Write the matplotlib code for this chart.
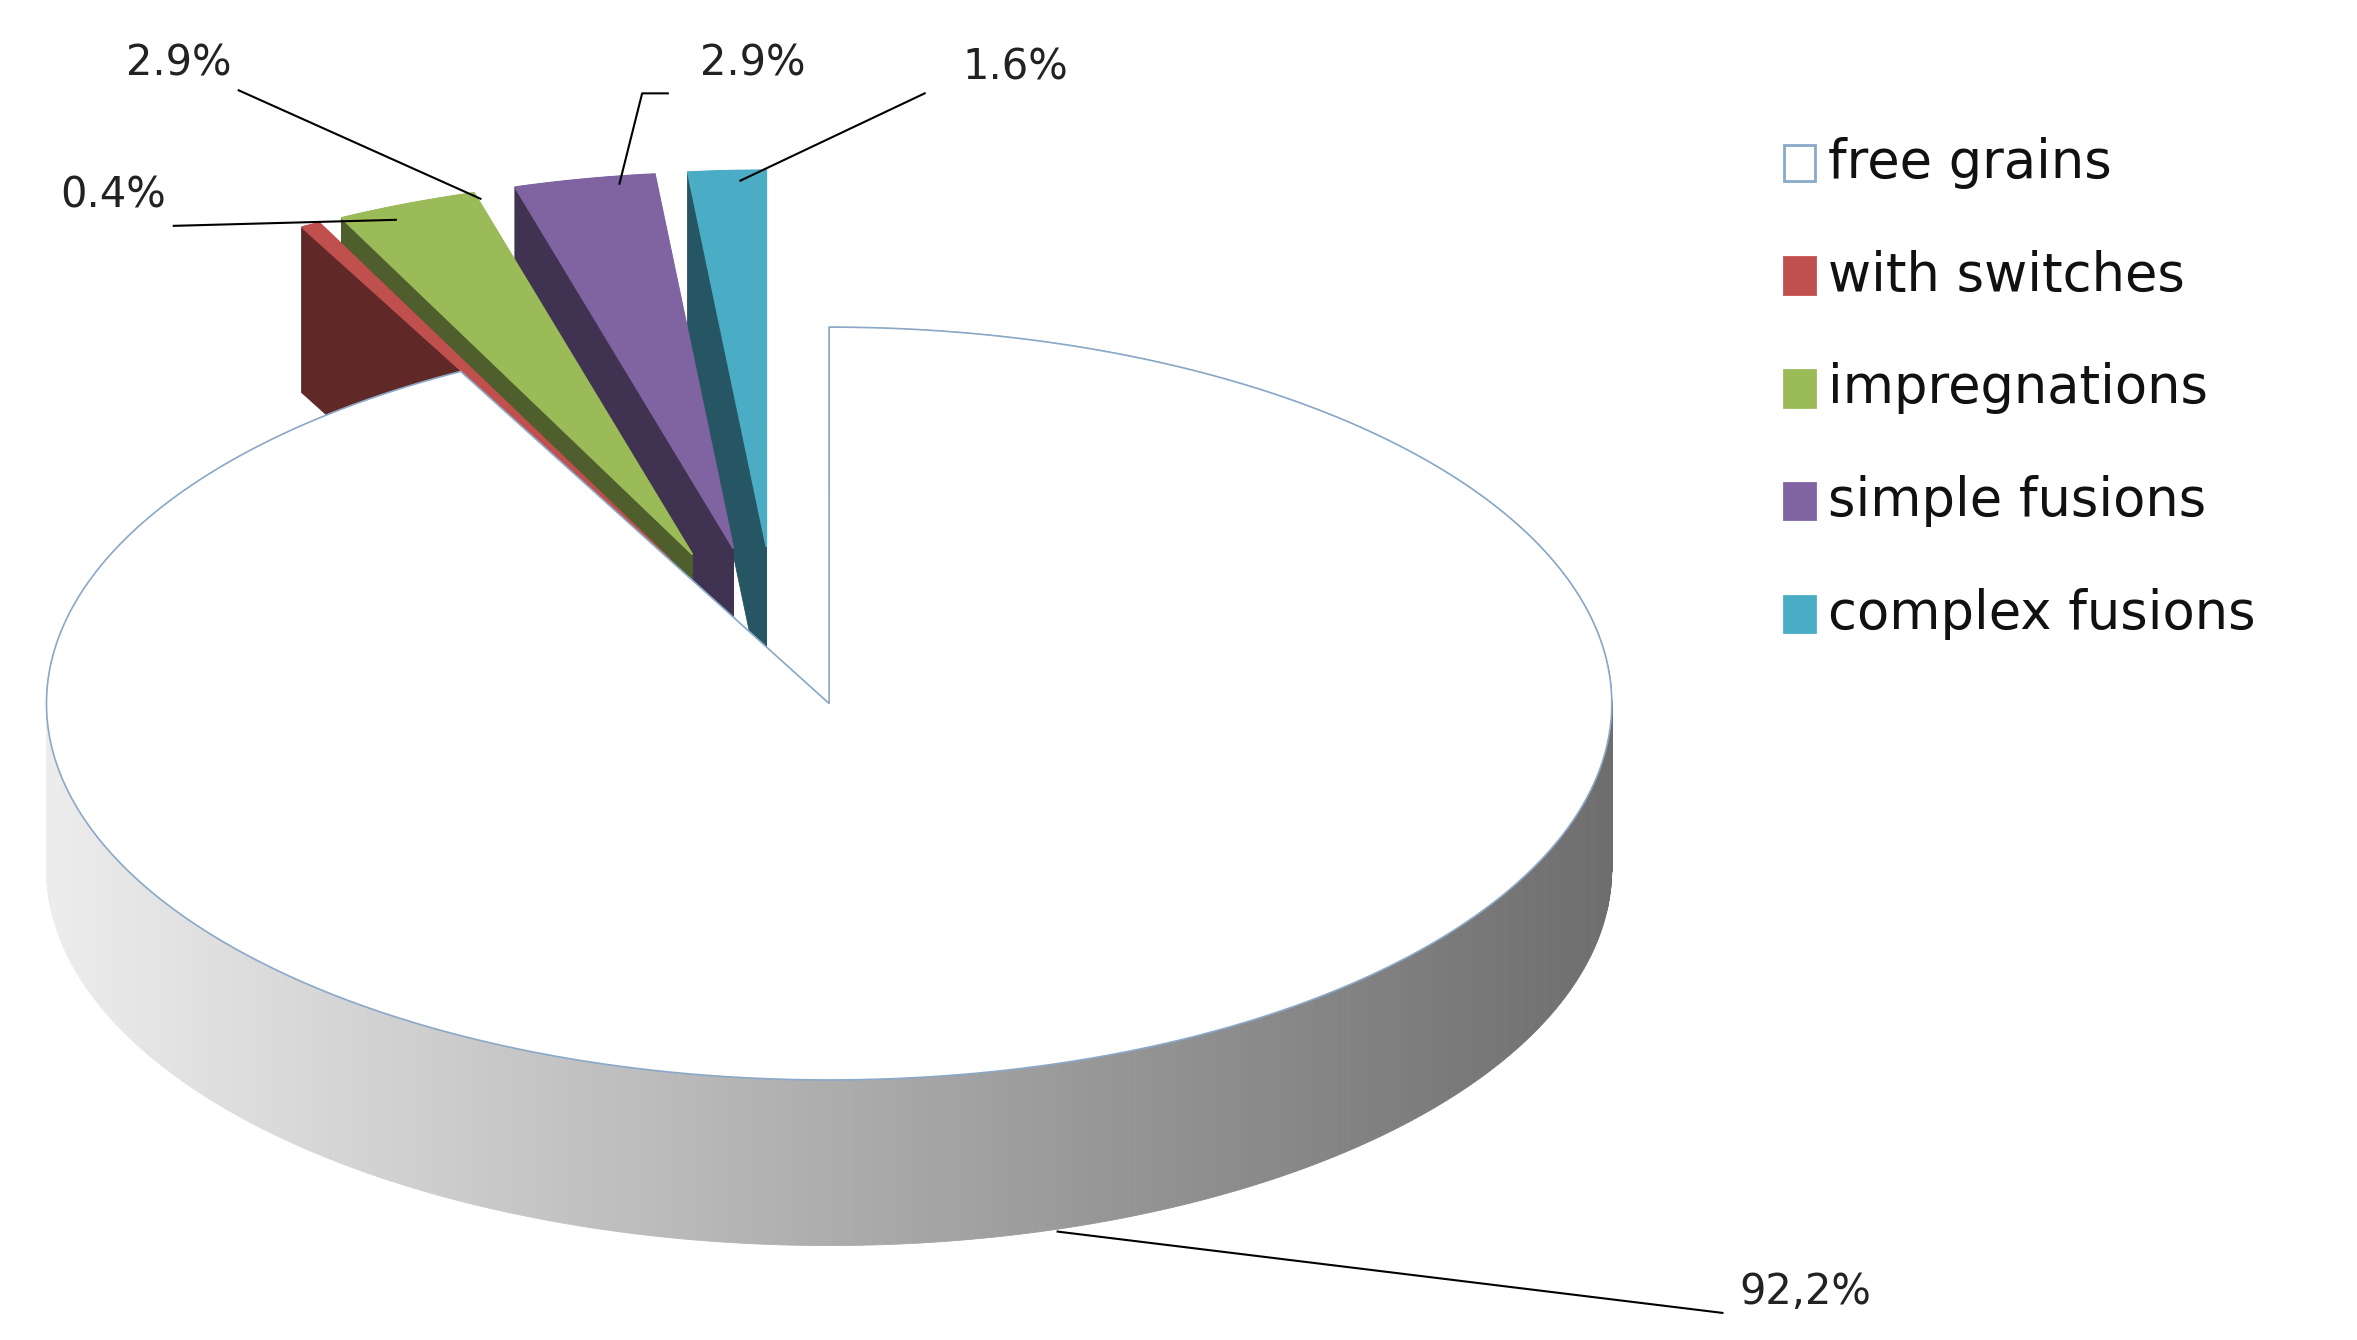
import numpy as np
import matplotlib
matplotlib.use("Agg")
import matplotlib.pyplot as plt
from matplotlib.patches import Polygon, Rectangle
import matplotlib.colors as mc

categories = ["free grains", "with switches", "impregnations", "simple fusions", "complex fusions"]
values = [92.2, 0.4, 2.9, 2.9, 1.6]
labels = ["92,2%", "0.4%", "2.9%", "2.9%", "1.6%"]
colors = ["#ffffff", "#c0504d", "#9bbb59", "#8064a2", "#4bacc6"]
edge_free = "#8aa8c8"

W, H = 1560, 890
cx, cy, rx, ry, depth = 545, 460, 518, 250, 110

fig = plt.figure(figsize=(23.57, 13.40), dpi=100)
ax = fig.add_axes([0, 0, 1, 1])
ax.set_xlim(0, W); ax.set_ylim(H, 0); ax.axis("off")

order = [4, 3, 2, 1, 0]
explode = {0: 0.03, 1: 0.3, 2: 0.3, 3: 0.3, 4: 0.3}
shift = {0: (0, 0), 1: (-30, -22), 2: (-30, -22), 3: (-30, -22), 4: (-30, -22)}
total = sum(values)
start = 90.0
slices = {}
for i in order:
    ang = values[i] / total * 360
    slices[i] = (start, start + ang)
    start += ang

def outline(i):
    a0, a1 = slices[i]
    m = np.radians((a0 + a1) / 2)
    ox = explode[i] * rx * np.cos(m) + shift[i][0]
    oy = -explode[i] * ry * np.sin(m) + shift[i][1]
    ts = np.radians(np.linspace(a0, a1, max(3, int((a1 - a0) * 2))))
    pts = [(cx + ox, cy + oy)] + [(cx + ox + rx * np.cos(t), cy + oy - ry * np.sin(t)) for t in ts]
    return np.array(pts)

def draw(i):
    pts = outline(i)
    n = len(pts)
    quads = []
    for k in range(n):
        p, q = pts[k], pts[(k + 1) % n]
        quads.append(np.array([p, q, q + [0, depth], p + [0, depth]]))
    quads.sort(key=lambda qd: qd[:, 1].mean())
    for qd in quads:
        if i == 0:
            xm = qd[:, 0].mean()
            l = 0.93 - 0.5 * (xm - (cx - rx)) / (2 * rx)
            c = (l, l, l)
        else:
            c = tuple(np.array(mc.to_rgb(colors[i])) * 0.5)
        ax.add_patch(Polygon(qd, closed=True, facecolor=c, edgecolor=c, lw=0.6))
    ax.add_patch(Polygon(pts, closed=True, facecolor=colors[i],
                         edgecolor=edge_free if i == 0 else colors[i], lw=1.2))

for i in [4, 3, 2, 1, 0]:
    draw(i)

lab = {0: ((1195, 858), [(700, 818), (1140, 872)]),
       1: ((75, 130), [(115, 150), (262, 146)]),
       2: ((118, 42), [(158, 60), (318, 132)]),
       3: ((498, 42), [(442, 62), (425, 62), (410, 122)]),
       4: ((672, 45), [(612, 62), (490, 120)])}
for i, (pos, line) in lab.items():
    xs, ys = zip(*line)
    ax.plot(xs, ys, color="black", lw=1.5)
    ax.text(pos[0], pos[1], labels[i], fontsize=30, ha="center", va="center", color="#222222")

for k, i in enumerate(range(5)):
    y = 108 + 75 * k
    ax.add_patch(Rectangle((1181, y - 12), 20, 24, facecolor=colors[i],
                           edgecolor=edge_free if i == 0 else colors[i], lw=2))
    ax.text(1210, y, categories[i], fontsize=38, va="center", ha="left", color="#111111")

fig.savefig("out.png", dpi=100)
